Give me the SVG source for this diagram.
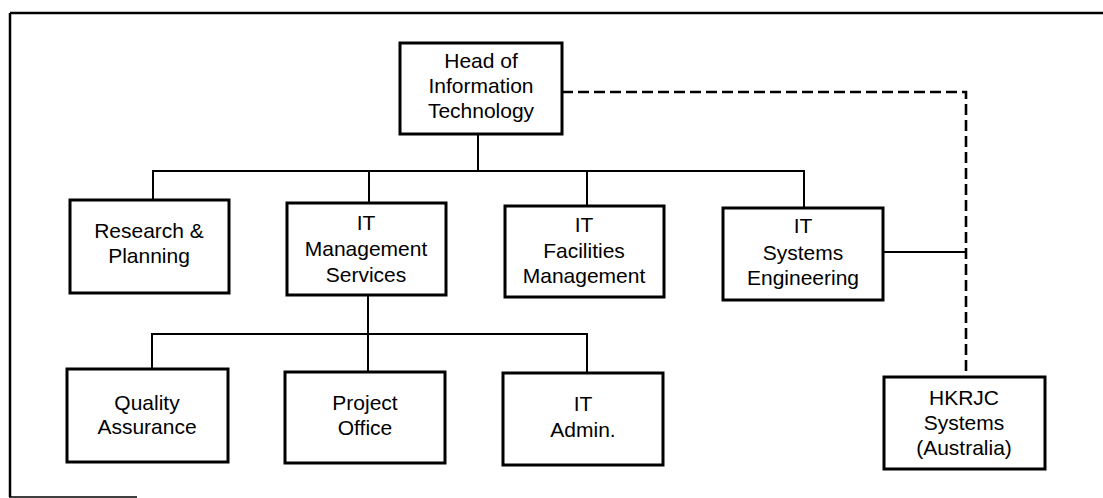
<svg xmlns="http://www.w3.org/2000/svg" width="1103" height="498" viewBox="0 0 1103 498">
  <style>
    .box { fill: #ffffff; stroke: #000000; stroke-width: 3; }
    .link { fill: none; stroke: #000000; stroke-width: 2; }
    .dotted { fill: none; stroke: #000000; stroke-width: 2.6; stroke-dasharray: 11 5; }
    .frame { fill: none; stroke: #000000; stroke-width: 2.5; }
    text { font-family: "Liberation Sans", Arial, sans-serif; font-size: 21px; fill: #000000; text-anchor: middle; }
  </style>

  <!-- outer frame (open on the right) -->
  <g id="frame">
    <path class="frame" d="M10 13 H1103 M10 13 V497"/>
    <path d="M9 497 H137" fill="none" stroke="#000" stroke-width="1.5"/>
  </g>

  <!-- reporting lines -->
  <g id="connectors">
    <path class="link" d="M478 134 V171"/>
    <path class="link" d="M153 200 V171 H804 V208"/>
    <path class="link" d="M369 171 V203"/>
    <path class="link" d="M587 171 V206"/>
    <path class="link" d="M368 295 V372"/>
    <path class="link" d="M152 369 V334 H587 V373"/>
    <path class="link" d="M883 252 H966"/>
    <path class="dotted" d="M562 92 H966 V377"/>
  </g>

  <g id="head-it">
    <rect class="box" x="400" y="43" width="162" height="91"/>
    <text x="481" y="68">Head of</text>
    <text x="481" y="93">Information</text>
    <text x="481" y="118">Technology</text>
  </g>

  <g id="research-planning">
    <rect class="box" x="70" y="200" width="159" height="93"/>
    <text x="149" y="238">Research &amp;</text>
    <text x="149" y="263">Planning</text>
  </g>

  <g id="it-management-services">
    <rect class="box" x="287" y="203" width="159" height="92"/>
    <text x="366" y="230">IT</text>
    <text x="366" y="256">Management</text>
    <text x="366" y="282">Services</text>
  </g>

  <g id="it-facilities-management">
    <rect class="box" x="505" y="206" width="159" height="91"/>
    <text x="584" y="232">IT</text>
    <text x="584" y="258">Facilities</text>
    <text x="584" y="283">Management</text>
  </g>

  <g id="it-systems-engineering">
    <rect class="box" x="723" y="208" width="160" height="92"/>
    <text x="803" y="233">IT</text>
    <text x="803" y="260">Systems</text>
    <text x="803" y="285">Engineering</text>
  </g>

  <g id="quality-assurance">
    <rect class="box" x="67" y="369" width="161" height="93"/>
    <text x="147" y="410">Quality</text>
    <text x="147" y="434">Assurance</text>
  </g>

  <g id="project-office">
    <rect class="box" x="285" y="372" width="160" height="91"/>
    <text x="365" y="410">Project</text>
    <text x="365" y="435">Office</text>
  </g>

  <g id="it-admin">
    <rect class="box" x="503" y="373" width="160" height="92"/>
    <text x="583" y="411">IT</text>
    <text x="583" y="437">Admin.</text>
  </g>

  <g id="hkrjc-systems">
    <rect class="box" x="884" y="377" width="161" height="92"/>
    <text x="964" y="405">HKRJC</text>
    <text x="964" y="430">Systems</text>
    <text x="964" y="455">(Australia)</text>
  </g>
</svg>
